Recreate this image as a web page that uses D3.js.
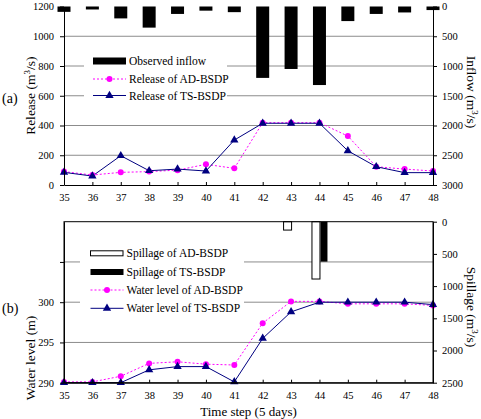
<!DOCTYPE html>
<html>
<head>
<meta charset="utf-8">
<script src="https://d3js.org/d3.v7.min.js"></script>
<style>
  body { margin: 0; background: #fff; }
  text { font-family: "Liberation Serif", "Times New Roman", serif; fill: #000; }
</style>
</head>
<body>
<div id="chart"></div>
<script>
// time steps (5 days)
var steps = [35, 36, 37, 38, 39, 40, 41, 42, 43, 44, 45, 46, 47, 48];
// panel (a)
var inflow = [90, 50, 200, 355, 125, 70, 95, 1200, 1050, 1320, 245, 125, 100, 60];
var releaseAD = [90, 67, 85, 90, 100, 139, 112, 419, 419, 419, 329, 123, 107, 94];
var releaseTS = [85, 60, 197, 96, 107, 94, 302, 415, 415, 415, 230, 123, 83, 83];
var releaseTicks = [0, 200, 400, 600, 800, 1000, 1200];
var inflowTicks = [0, 500, 1000, 1500, 2000, 2500, 3000];
// panel (b)
var spillAD = [0, 0, 0, 0, 0, 0, 0, 0, 130, 890, 0, 0, 0, 0];
var spillTS = [0, 0, 0, 0, 0, 0, 0, 0, 0, 620, 0, 0, 0, 0];
var levelAD = [290.1, 290.1, 290.8, 292.4, 292.6, 292.3, 292.2, 297.4, 300.1, 300.1, 299.8, 299.8, 299.8, 299.6];
var levelTS = [290.0, 290.0, 290.0, 291.6, 292.0, 292.0, 290.1, 295.5, 298.8, 300.0, 300.0, 300.0, 300.0, 299.7];
var levelTicks = [290, 295, 300, 305];
var spillTicks = [0, 500, 1000, 1500, 2000, 2500];

var W = 481, H = 419;
var magenta = "#ff00ff", navy = "#000080", grid = "#8c8c8c";
var fmt = d3.format("d");

var svg = d3.select("#chart").append("svg")
    .attr("width", W).attr("height", H);

var x = d3.scaleLinear().domain([35, 48]).range([64, 433]);

// ---------- panel (a) ----------
var yA = d3.scaleLinear().domain([0, 1200]).range([185, 6.5]);
var yIn = d3.scaleLinear().domain([0, 3000]).range([6.5, 185]);

var gA = svg.append("g");

// gridlines
gA.selectAll(".gridA").data([200, 400, 600, 800, 1000]).enter().append("line")
    .attr("x1", x(35)).attr("x2", x(48))
    .attr("y1", d => yA(d)).attr("y2", d => yA(d))
    .attr("stroke", grid).attr("stroke-width", 1);

// legend background
gA.append("rect").attr("x", 84).attr("y", 51).attr("width", 143).attr("height", 53).attr("fill", "#fff");

// inflow bars hanging from top
gA.selectAll(".bar").data(steps).enter().append("rect")
    .attr("x", (d) => x(d) - 6.5)
    .attr("y", yIn(0))
    .attr("width", 13)
    .attr("height", (d, i) => yIn(inflow[i]) - yIn(0))
    .attr("fill", "#000");

var lineA = d3.line().x((d, i) => x(steps[i])).y(d => yA(d));
gA.append("path").attr("d", lineA(releaseAD))
    .attr("fill", "none").attr("stroke", magenta).attr("stroke-width", 1).attr("stroke-dasharray", "2,2");
gA.append("path").attr("d", lineA(releaseTS))
    .attr("fill", "none").attr("stroke", navy).attr("stroke-width", 1);
gA.selectAll(".dotA").data(releaseAD).enter().append("circle")
    .attr("cx", (d, i) => x(steps[i])).attr("cy", d => yA(d)).attr("r", 3).attr("fill", magenta);
var tri = d3.symbol().type(d3.symbolTriangle).size(30);
gA.selectAll(".triA").data(releaseTS).enter().append("path")
    .attr("d", tri)
    .attr("transform", (d, i) => `translate(${x(steps[i])},${yA(d)})`)
    .attr("fill", navy);

// axes
gA.append("g").attr("transform", `translate(0,${yA(0)})`)
    .call(d3.axisBottom(x).tickValues(steps).tickSize(-3).tickPadding(9).tickSizeOuter(0).tickFormat(fmt))
    .call(styleAxis);
gA.append("g").attr("transform", `translate(${x(35)},0)`)
    .call(d3.axisLeft(yA).tickValues(releaseTicks).tickSize(4).tickPadding(6).tickSizeOuter(0).tickFormat(fmt))
    .call(styleAxis);
gA.append("g").attr("transform", `translate(${x(48)},0)`)
    .call(d3.axisRight(yIn).tickValues(inflowTicks).tickSize(4).tickPadding(5).tickSizeOuter(0).tickFormat(fmt))
    .call(styleAxis);

// legend (a)
var legA = gA.append("g");
legA.append("rect").attr("x", 93).attr("y", 57.5).attr("width", 33).attr("height", 7).attr("fill", "#000");
legA.append("line").attr("x1", 93).attr("x2", 126).attr("y1", 79).attr("y2", 79)
    .attr("stroke", magenta).attr("stroke-dasharray", "2,2");
legA.append("circle").attr("cx", 109.5).attr("cy", 79).attr("r", 3).attr("fill", magenta);
legA.append("line").attr("x1", 93).attr("x2", 126).attr("y1", 95.5).attr("y2", 95.5).attr("stroke", navy);
legA.append("path").attr("d", tri).attr("transform", "translate(109.5,95.5)").attr("fill", navy);
legA.selectAll("text").data(["Observed inflow", "Release of AD-BSDP", "Release of TS-BSDP"]).enter()
    .append("text").attr("x", 129).attr("y", (d, i) => [61, 79, 95.5][i])
    .attr("dy", "0.35em").attr("font-size", 11.5).text(d => d);

// titles (a)
axisTitle(svg, 30, 95.7, -90, "Release (m", "3", "/s)");
axisTitle(svg, 472, 92, 90, "Inflow (m", "3", "/s)");
svg.append("text").attr("x", 2).attr("y", 98).attr("dy", "0.35em").attr("font-size", 14).text("(a)");

// ---------- panel (b) ----------
var yB = d3.scaleLinear().domain([290, 310]).range([382.7, 221.7]);
var ySp = d3.scaleLinear().domain([0, 2500]).range([221.7, 382.7]);

var gB = svg.append("g");
gB.selectAll(".gridB").data([295, 300, 305]).enter().append("line")
    .attr("x1", x(35)).attr("x2", x(48))
    .attr("y1", d => yB(d)).attr("y2", d => yB(d))
    .attr("stroke", grid).attr("stroke-width", 1);

gB.append("rect").attr("x", 80).attr("y", 244).attr("width", 164).attr("height", 74).attr("fill", "#fff");

// spillage bars
gB.selectAll(".spAD").data(steps).enter().append("rect")
    .attr("x", d => x(d) - 7.5)
    .attr("y", ySp(0))
    .attr("width", 8)
    .attr("height", (d, i) => ySp(spillAD[i]) - ySp(0))
    .attr("fill", "#fff").attr("stroke", (d, i) => spillAD[i] > 0 ? "#000" : "none").attr("stroke-width", 1);
gB.selectAll(".spTS").data(steps).enter().append("rect")
    .attr("x", d => x(d) + 1)
    .attr("y", ySp(0))
    .attr("width", 7)
    .attr("height", (d, i) => ySp(spillTS[i]) - ySp(0))
    .attr("fill", "#000");

var lineB = d3.line().x((d, i) => x(steps[i])).y(d => yB(d));
gB.append("path").attr("d", lineB(levelAD))
    .attr("fill", "none").attr("stroke", magenta).attr("stroke-width", 1).attr("stroke-dasharray", "2,2");
gB.append("path").attr("d", lineB(levelTS))
    .attr("fill", "none").attr("stroke", navy).attr("stroke-width", 1);
gB.selectAll(".dotB").data(levelAD).enter().append("circle")
    .attr("cx", (d, i) => x(steps[i])).attr("cy", d => yB(d)).attr("r", 3).attr("fill", magenta);
gB.selectAll(".triB").data(levelTS).enter().append("path")
    .attr("d", tri)
    .attr("transform", (d, i) => `translate(${x(steps[i])},${yB(d)})`)
    .attr("fill", navy);

// frame
gB.append("rect").attr("x", x(35)).attr("y", yB(310))
    .attr("width", x(48) - x(35)).attr("height", yB(290) - yB(310))
    .attr("fill", "none").attr("stroke", "#000");

gB.append("g").attr("transform", `translate(0,${yB(290)})`)
    .call(d3.axisBottom(x).tickValues(steps).tickSize(-3).tickPadding(9).tickSizeOuter(0).tickFormat(fmt))
    .call(styleAxis);
gB.append("g").attr("transform", `translate(${x(35)},0)`)
    .call(d3.axisLeft(yB).tickValues(levelTicks).tickSize(4).tickPadding(6).tickSizeOuter(0)
        .tickFormat(d => d === 305 ? "" : fmt(d)))
    .call(styleAxis);
gB.append("g").attr("transform", `translate(${x(48)},0)`)
    .call(d3.axisRight(ySp).tickValues(spillTicks).tickSize(4).tickPadding(5).tickSizeOuter(0).tickFormat(fmt))
    .call(styleAxis);

// legend (b)
var legB = gB.append("g");
legB.append("rect").attr("x", 90.5).attr("y", 250.8).attr("width", 32.5).attr("height", 5)
    .attr("fill", "#fff").attr("stroke", "#000");
legB.append("rect").attr("x", 90.5).attr("y", 269).attr("width", 33).attr("height", 6).attr("fill", "#000");
legB.append("line").attr("x1", 90.5).attr("x2", 123.5).attr("y1", 290).attr("y2", 290)
    .attr("stroke", magenta).attr("stroke-dasharray", "2,2");
legB.append("circle").attr("cx", 107).attr("cy", 290).attr("r", 3).attr("fill", magenta);
legB.append("line").attr("x1", 90.5).attr("x2", 123.5).attr("y1", 308.3).attr("y2", 308.3).attr("stroke", navy);
legB.append("path").attr("d", tri).attr("transform", "translate(107,308.3)").attr("fill", navy);
legB.selectAll("text").data(["Spillage of AD-BSDP", "Spillage of TS-BSDP", "Water level of AD-BSDP", "Water level of TS-BSDP"]).enter()
    .append("text").attr("x", 126.5).attr("y", (d, i) => [253.3, 271.7, 290, 308.3][i])
    .attr("dy", "0.35em").attr("font-size", 11.5).text(d => d);

axisTitle(svg, 30, 358, -90, "Water level (m)", "", "");
axisTitle(svg, 472, 307, 90, "Spillage (m", "3", "/s)");
svg.append("text").attr("x", 2).attr("y", 308).attr("dy", "0.35em").attr("font-size", 14).text("(b)");
svg.append("text").attr("x", 248.5).attr("y", 411).attr("dy", "0.35em")
    .attr("text-anchor", "middle").attr("font-size", 13).text("Time step (5 days)");

function styleAxis(g) {
    g.attr("font-family", null);
    g.select(".domain").attr("stroke", "#000");
    g.selectAll(".tick line").attr("stroke", "#000");
    g.selectAll(".tick text").attr("font-size", 10.5).attr("fill", "#000");
}

function axisTitle(sel, cx, cy, rot, a, sup, b) {
    var t = sel.append("text")
        .attr("transform", `translate(${cx},${cy}) rotate(${rot})`)
        .attr("text-anchor", "middle").attr("dy", "0.35em").attr("font-size", 13.5);
    t.append("tspan").text(a);
    if (sup) {
        t.append("tspan").attr("baseline-shift", "super").attr("font-size", 9).text(sup);
        t.append("tspan").text(b);
    }
}
</script>
</body>
</html>
